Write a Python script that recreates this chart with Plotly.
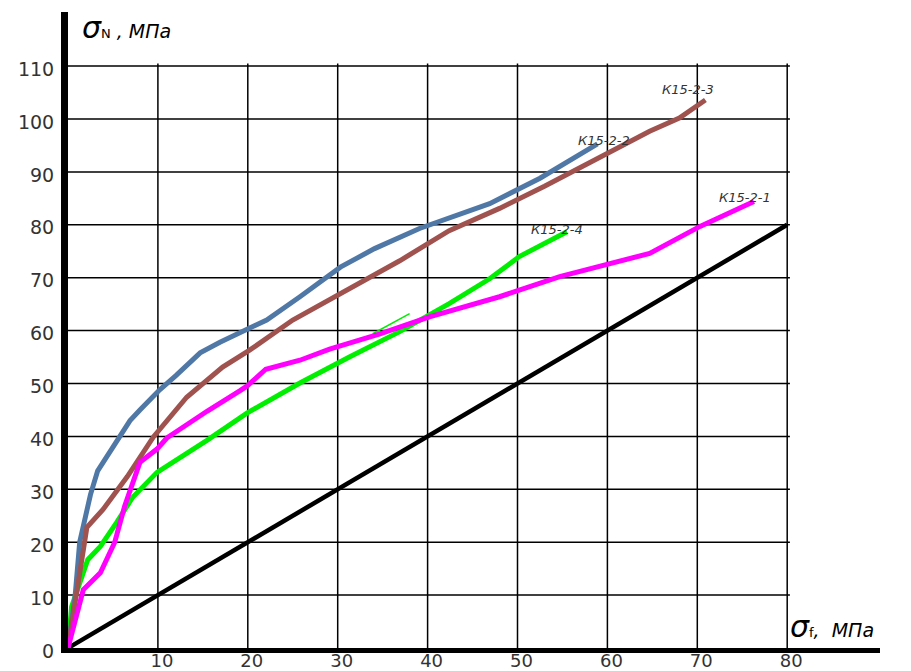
import plotly.graph_objects as go

# ---- data ----
k1_x = [0, 1.7, 3.6, 5.2, 6.3, 7.2, 8.0, 9.9, 11.0, 11.7, 14.7, 15.5, 19.1, 19.9, 22.0, 25.8, 29.1, 34.7, 40.2, 48.0, 54.7, 64.7, 70.3, 76.3]
k1_y = [0, 11.0, 14.2, 20.0, 26.8, 31.3, 35.1, 37.6, 39.7, 40.5, 44.0, 44.8, 48.6, 49.5, 52.7, 54.4, 56.5, 59.4, 62.6, 66.4, 70.2, 74.6, 79.7, 84.4]

k2_x = [0, 0.8, 1.3, 1.9, 2.5, 3.3, 4.6, 6.9, 8.0, 10.2, 12.0, 14.7, 16.9, 19.9, 22.1, 25.8, 30.3, 34.1, 39.1, 46.9, 52.5, 58.9]
k2_y = [0, 10.0, 20.0, 25.0, 29.0, 33.5, 37.0, 43.0, 45.0, 48.8, 51.5, 55.8, 57.8, 60.1, 62.0, 66.4, 72.0, 75.5, 79.3, 84.0, 88.8, 95.3]

k3_x = [0, 1.3, 2.1, 3.9, 6.6, 9.5, 13.2, 17.2, 20.2, 25.0, 31.3, 36.9, 42.4, 48.0, 53.0, 59.1, 64.7, 68.0, 70.9]
k3_y = [0, 14.2, 22.8, 26.2, 32.4, 39.9, 47.4, 53.1, 56.3, 62.0, 67.9, 73.2, 78.9, 83.1, 87.3, 92.6, 97.7, 100.2, 103.6]

k4_x = [0, 0.4, 2.2, 3.6, 5.4, 7.2, 9.9, 11.7, 14.7, 15.5, 19.9, 25.8, 31.3, 36.9, 42.4, 46.9, 50.2, 55.5]
k4_y = [0, 7.8, 16.7, 19.2, 23.7, 28.5, 33.2, 35.1, 38.5, 39.3, 44.4, 50.1, 55.0, 59.8, 65.1, 69.8, 74.0, 78.7]

k4_stray_x = [33.9, 38.0]
k4_stray_y = [59.4, 63.2]

ref_x = [0, 80]
ref_y = [0, 80]

x_ticks = [10, 20, 30, 40, 50, 60, 70, 80]
y_ticks = [0, 10, 20, 30, 40, 50, 60, 70, 80, 90, 100, 110]

labels = ["К15-2-1", "К15-2-2", "К15-2-3", "К15-2-4"]
label_x = [75.3, 59.6, 69.0, 54.4]
label_y = [85.1, 96.0, 105.5, 79.2]

# ---- figure ----
fig = go.Figure()

fig.add_trace(go.Scatter(x=ref_x, y=ref_y, mode="lines",
                         line=dict(color="black", width=4.5), showlegend=False))
fig.add_trace(go.Scatter(x=k4_x, y=k4_y, mode="lines",
                         line=dict(color="#00ee00", width=5), showlegend=False))
fig.add_trace(go.Scatter(x=k4_stray_x, y=k4_stray_y, mode="lines",
                         line=dict(color="#00ee00", width=1.5), showlegend=False))
fig.add_trace(go.Scatter(x=k2_x, y=k2_y, mode="lines",
                         line=dict(color="#5078a6", width=5), showlegend=False))
fig.add_trace(go.Scatter(x=k3_x, y=k3_y, mode="lines",
                         line=dict(color="#a0524f", width=5), showlegend=False))
fig.add_trace(go.Scatter(x=k1_x, y=k1_y, mode="lines",
                         line=dict(color="#ff00ff", width=5), showlegend=False))

# grid lines (limited to 0..80 and 0..110 as in the original)
shapes = []
for v in y_ticks[1:]:
    shapes.append(dict(type="line", xref="x", yref="y", x0=0, x1=80.3, y0=v, y1=v,
                       line=dict(color="black", width=1.5), layer="below"))
for v in x_ticks:
    shapes.append(dict(type="line", xref="x", yref="y", x0=v, x1=v, y0=0, y1=110.5,
                       line=dict(color="black", width=1.5), layer="below"))

annotations = []
for t, ax_, ay_ in zip(labels, label_x, label_y):
    annotations.append(dict(x=ax_, y=ay_, xref="x", yref="y", text="<i>" + t + "</i>",
                            showarrow=False, font=dict(family="DejaVu Sans", size=13, color="#333")))

# page offset: the browser page has an 8px body margin
OFF = 8
W, H = 911 - OFF, 671 - OFF
L, T = 68 - OFF, 12 - OFF
R = W - (880 - OFF)
B = H - (648 - OFF)
pw, ph = W - L - R, H - T - B
xr = pw / 8.99
yr = ph / 5.29

title_specs = [
    (80, 28, "<i><span style='font-size:30px'>σ</span></i><span style='font-size:13px'>N</span>"
             "<i><span style='font-size:19px'> , МПа</span></i>"),
    (788, 626, "<i><span style='font-size:30px'>σ</span></i><span style='font-size:13px'>f</span>"
               "<i><span style='font-size:19px'>,  МПа</span></i>"),
]
for px, py, txt in title_specs:
    annotations.append(dict(x=(px - OFF - L) / pw, y=(H + OFF - B - py) / ph,
                            xref="paper", yref="paper", xanchor="left", yanchor="middle",
                            text=txt, showarrow=False,
                            font=dict(family="DejaVu Sans", size=19, color="black")))

fig.update_layout(
    width=W, height=H,
    margin=dict(l=L, r=R, t=T, b=B, pad=0, autoexpand=False),
    plot_bgcolor="white", paper_bgcolor="white",
    shapes=shapes, annotations=annotations,
    xaxis=dict(range=[0, xr], tickvals=x_ticks, ticktext=[str(v) for v in x_ticks],
               showgrid=False, zeroline=False, showline=True, linecolor="black", linewidth=5,
               ticks="", ticklabelstandoff=-8, ticklabelshift=4, automargin=False,
               tickfont=dict(family="DejaVu Sans", size=18, color="#333")),
    yaxis=dict(range=[0, yr], tickvals=y_ticks, ticktext=[str(v) for v in y_ticks],
               showgrid=False, zeroline=False, showline=True, linecolor="black", linewidth=7,
               ticks="", ticklabelstandoff=3, ticklabelshift=3, automargin=False,
               tickfont=dict(family="DejaVu Sans", size=19, color="#333")),
)

fig.write_html("out.html")
